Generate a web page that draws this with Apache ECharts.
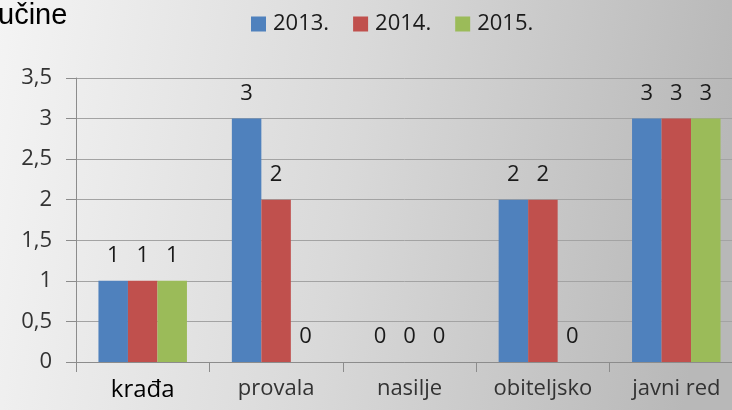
<!DOCTYPE html>
<html>
<head>
<meta charset="utf-8">
<title>Kaznena djela</title>
<script src="https://cdn.jsdelivr.net/npm/echarts@6/dist/echarts.min.js"></script>
<style>
  html, body { margin: 0; padding: 0; }
  #chart { width: 732px; height: 410px; }
</style>
</head>
<body>
<div id="chart"></div>
<script>
// values
const categories = ["krađa", "provala", "nasilje", "obiteljsko", "javni red"];
const years = ["2013.", "2014.", "2015."];
const data2013 = [1, 3, 0, 2, 3];
const data2014 = [1, 2, 0, 2, 3];
const data2015 = [1, 0, 0, 0, 3];
const colors = ["#4f81bd", "#c0504d", "#9bbb59"];

const font = "'Open Sans', sans-serif";
const chart = echarts.init(document.getElementById("chart"));

function barSeries(name, values) {
  return {
    name: name,
    type: "bar",
    barWidth: 29.5,
    barGap: 0,
    data: values,
    label: {
      show: true,
      position: "top",
      distance: 14,
      color: "#1a1a1a",
      fontFamily: font,
      fontSize: 22,
    },
  };
}

chart.setOption({
  backgroundColor: {
    type: "linear",
    x: 0,
    y: 0,
    x2: 1,
    y2: 0.3,
    colorStops: [
      { offset: 0, color: "#f4f4f4" },
      { offset: 0.5, color: "#d9d9d9" },
      { offset: 1, color: "#b8b8b8" },
    ],
  },
  color: colors,
  title: {
    text: "učine",
    left: -2,
    top: 1,
    padding: 0,
    textStyle: {
      fontFamily: "'Liberation Sans', Arial, sans-serif",
      fontSize: 29,
      fontWeight: "normal",
      color: "#000",
    },
  },
  legend: {
    data: years,
    left: 246,
    top: 8,
    icon: "rect",
    itemWidth: 15,
    itemHeight: 15,
    itemGap: 24,
    selectedMode: false,
    textStyle: {
      fontFamily: font,
      fontSize: 22,
      color: "#1a1a1a",
      padding: [0, 0, 0, 2],
    },
  },
  // plot runs past the right edge of the picture
  grid: {
    left: 76,
    right: -11,
    top: 78,
    bottom: 48,
    outerBoundsMode: "none",
  },
  xAxis: {
    type: "category",
    data: categories.map((c, i) =>
      i === 0 ? { value: c, textStyle: { fontSize: 24, color: "#000" } } : c
    ),
    axisLine: { lineStyle: { color: "#8c8c8c", width: 1 } },
    axisTick: { show: true, length: 10, lineStyle: { color: "#8c8c8c" } },
    axisLabel: {
      margin: 16,
      fontFamily: font,
      fontSize: 22,
      color: "#333",
    },
  },
  yAxis: {
    type: "value",
    min: 0,
    max: 3.5,
    interval: 0.5,
    axisLine: { show: true, lineStyle: { color: "#8c8c8c", width: 1 } },
    axisTick: { show: true, length: 10, lineStyle: { color: "#8c8c8c" } },
    splitLine: { lineStyle: { color: "#a3a3a3", width: 1 } },
    axisLabel: {
      margin: 24,
      fontFamily: font,
      fontSize: 22,
      color: "#333",
      formatter: (v) => String(v).replace(".", ","),
    },
  },
  series: [
    barSeries(years[0], data2013),
    barSeries(years[1], data2014),
    barSeries(years[2], data2015),
  ],
});
</script>
</body>
</html>
